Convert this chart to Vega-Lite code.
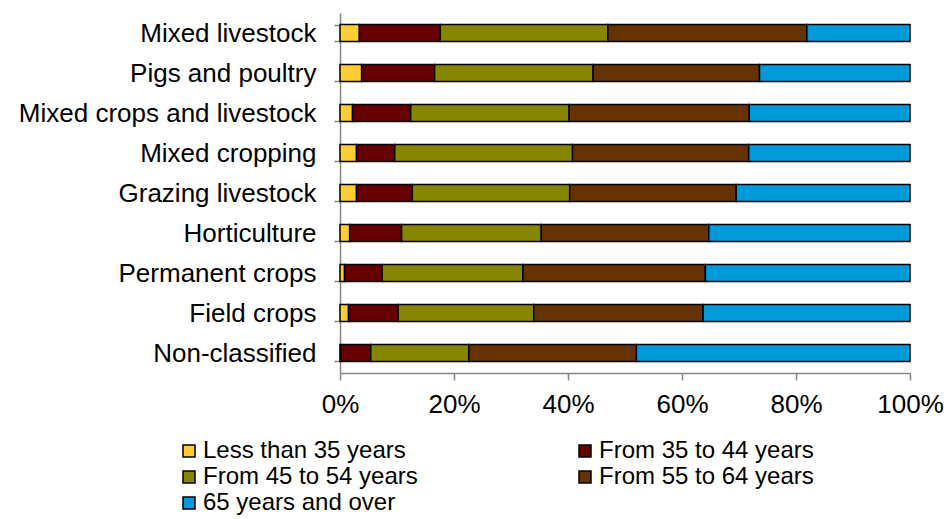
{
  "$schema": "https://vega.github.io/schema/vega-lite/v6.json",
  "width": 570,
  "height": 360,
  "autosize": {"type": "none"},
  "padding": {"left": 340, "top": 13, "right": 36, "bottom": 146},
  "background": "white",
  "config": {
    "view": {"stroke": null},
    "font": "Liberation Sans"
  },
  "data": {
    "values": [
      {"type": "Mixed livestock", "age": "Less than 35 years", "rank": 1, "share": 3.4},
      {"type": "Mixed livestock", "age": "From 35 to 44 years", "rank": 2, "share": 14.2},
      {"type": "Mixed livestock", "age": "From 45 to 54 years", "rank": 3, "share": 29.4},
      {"type": "Mixed livestock", "age": "From 55 to 64 years", "rank": 4, "share": 34.9},
      {"type": "Mixed livestock", "age": "65 years and over", "rank": 5, "share": 18.1},
      {"type": "Pigs and poultry", "age": "Less than 35 years", "rank": 1, "share": 3.8},
      {"type": "Pigs and poultry", "age": "From 35 to 44 years", "rank": 2, "share": 12.8},
      {"type": "Pigs and poultry", "age": "From 45 to 54 years", "rank": 3, "share": 27.8},
      {"type": "Pigs and poultry", "age": "From 55 to 64 years", "rank": 4, "share": 29.2},
      {"type": "Pigs and poultry", "age": "65 years and over", "rank": 5, "share": 26.4},
      {"type": "Mixed crops and livestock", "age": "Less than 35 years", "rank": 1, "share": 2.2},
      {"type": "Mixed crops and livestock", "age": "From 35 to 44 years", "rank": 2, "share": 10.2},
      {"type": "Mixed crops and livestock", "age": "From 45 to 54 years", "rank": 3, "share": 27.8},
      {"type": "Mixed crops and livestock", "age": "From 55 to 64 years", "rank": 4, "share": 31.6},
      {"type": "Mixed crops and livestock", "age": "65 years and over", "rank": 5, "share": 28.2},
      {"type": "Mixed cropping", "age": "Less than 35 years", "rank": 1, "share": 2.9},
      {"type": "Mixed cropping", "age": "From 35 to 44 years", "rank": 2, "share": 6.7},
      {"type": "Mixed cropping", "age": "From 45 to 54 years", "rank": 3, "share": 31.2},
      {"type": "Mixed cropping", "age": "From 55 to 64 years", "rank": 4, "share": 30.9},
      {"type": "Mixed cropping", "age": "65 years and over", "rank": 5, "share": 28.3},
      {"type": "Grazing livestock", "age": "Less than 35 years", "rank": 1, "share": 2.9},
      {"type": "Grazing livestock", "age": "From 35 to 44 years", "rank": 2, "share": 9.8},
      {"type": "Grazing livestock", "age": "From 45 to 54 years", "rank": 3, "share": 27.6},
      {"type": "Grazing livestock", "age": "From 55 to 64 years", "rank": 4, "share": 29.2},
      {"type": "Grazing livestock", "age": "65 years and over", "rank": 5, "share": 30.5},
      {"type": "Horticulture", "age": "Less than 35 years", "rank": 1, "share": 1.7},
      {"type": "Horticulture", "age": "From 35 to 44 years", "rank": 2, "share": 9.1},
      {"type": "Horticulture", "age": "From 45 to 54 years", "rank": 3, "share": 24.5},
      {"type": "Horticulture", "age": "From 55 to 64 years", "rank": 4, "share": 29.4},
      {"type": "Horticulture", "age": "65 years and over", "rank": 5, "share": 35.3},
      {"type": "Permanent crops", "age": "Less than 35 years", "rank": 1, "share": 0.8},
      {"type": "Permanent crops", "age": "From 35 to 44 years", "rank": 2, "share": 6.6},
      {"type": "Permanent crops", "age": "From 45 to 54 years", "rank": 3, "share": 24.7},
      {"type": "Permanent crops", "age": "From 55 to 64 years", "rank": 4, "share": 32.0},
      {"type": "Permanent crops", "age": "65 years and over", "rank": 5, "share": 35.9},
      {"type": "Field crops", "age": "Less than 35 years", "rank": 1, "share": 1.5},
      {"type": "Field crops", "age": "From 35 to 44 years", "rank": 2, "share": 8.7},
      {"type": "Field crops", "age": "From 45 to 54 years", "rank": 3, "share": 23.8},
      {"type": "Field crops", "age": "From 55 to 64 years", "rank": 4, "share": 29.7},
      {"type": "Field crops", "age": "65 years and over", "rank": 5, "share": 36.3},
      {"type": "Non-classified", "age": "Less than 35 years", "rank": 1, "share": 0.1},
      {"type": "Non-classified", "age": "From 35 to 44 years", "rank": 2, "share": 5.3},
      {"type": "Non-classified", "age": "From 45 to 54 years", "rank": 3, "share": 17.2},
      {"type": "Non-classified", "age": "From 55 to 64 years", "rank": 4, "share": 29.4},
      {"type": "Non-classified", "age": "65 years and over", "rank": 5, "share": 48.0}
    ]
  },
  "mark": {"type": "bar", "stroke": "black", "strokeWidth": 1.5},
  "encoding": {
    "y": {
      "field": "type",
      "type": "nominal",
      "sort": ["Mixed livestock", "Pigs and poultry", "Mixed crops and livestock", "Mixed cropping", "Grazing livestock", "Horticulture", "Permanent crops", "Field crops", "Non-classified"],
      "scale": {"paddingInner": 0.58, "paddingOuter": 0.29},
      "axis": {
        "title": null,
        "domainColor": "#868686",
        "domainWidth": 1.5,
        "tickColor": "#868686",
        "tickWidth": 1.5,
        "tickSize": 6,
        "tickBand": "extent",
        "labelPadding": 18,
        "labelFontSize": 26,
        "labelLimit": 400,
        "labelColor": "black",
        "labelFont": "Liberation Sans"
      }
    },
    "x": {
      "field": "share",
      "type": "quantitative",
      "stack": "normalize",
      "scale": {"domain": [0, 1], "nice": false},
      "axis": {
        "title": null,
        "values": [0, 0.2, 0.4, 0.6, 0.8, 1],
        "format": ".0%",
        "grid": false,
        "domainColor": "#868686",
        "domainWidth": 1.5,
        "tickColor": "#868686",
        "tickWidth": 1.5,
        "tickSize": 7,
        "labelPadding": 11,
        "labelFontSize": 26,
        "labelColor": "black",
        "labelFont": "Liberation Sans",
        "labelFlush": false
      }
    },
    "order": {"field": "rank", "type": "quantitative", "sort": "ascending"},
    "color": {
      "field": "age",
      "type": "nominal",
      "sort": ["Less than 35 years", "From 35 to 44 years", "From 45 to 54 years", "From 55 to 64 years", "65 years and over"],
      "scale": {
        "domain": ["Less than 35 years", "From 35 to 44 years", "From 45 to 54 years", "From 55 to 64 years", "65 years and over"],
        "range": ["#FFCC33", "#660000", "#868600", "#663300", "#009ADB"]
      },
      "legend": {
        "title": null,
        "orient": "none",
        "legendX": -163,
        "legendY": 426,
        "direction": "horizontal",
        "columns": 2,
        "columnPadding": 155,
        "rowPadding": 2,
        "symbolType": "square",
        "symbolSize": 144,
        "symbolStrokeColor": "black",
        "symbolStrokeWidth": 1.5,
        "labelFontSize": 24,
        "labelColor": "black",
        "labelFont": "Liberation Sans",
        "labelOffset": 2,
        "labelLimit": 400
      }
    }
  }
}
